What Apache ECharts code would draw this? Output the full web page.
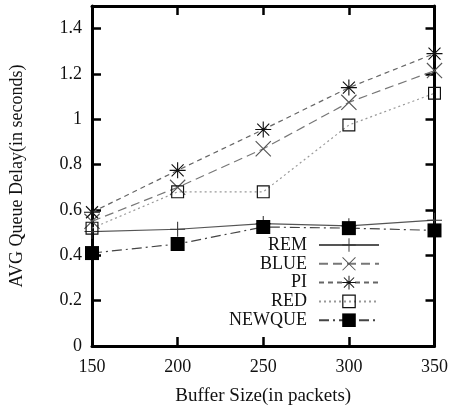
<!DOCTYPE html>
<html>
<head>
<meta charset="utf-8">
<script src="https://cdn.jsdelivr.net/npm/echarts@6/dist/echarts.min.js"></script>
<style>html,body{margin:0;padding:0;background:#fff;}#c{width:451px;height:411px;}</style>
</head>
<body>
<div id="c"></div>
<script>
const bufferSizes = [150, 200, 250, 300, 350];
const remDelay    = [0.505, 0.515, 0.54, 0.53, 0.555];
const blueDelay   = [0.55, 0.70, 0.87, 1.075, 1.215];
const piDelay     = [0.59, 0.775, 0.955, 1.14, 1.29];
const redDelay    = [0.52, 0.68, 0.68, 0.975, 1.115];
const newqueDelay = [0.41, 0.45, 0.525, 0.52, 0.51];
const seriesNames = ['REM', 'BLUE', 'PI', 'RED', 'NEWQUE'];

const PLUS = 'path://M0,9.3L20,9.3L20,10.7L0,10.7Z M9.3,0L10.7,0L10.7,20L9.3,20Z';
const CROSS = 'path://M0,1L1,0L20,19L19,20Z M19,0L20,1L1,20L0,19Z';
const STAR = 'path://M0,9.3L20,9.3L20,10.7L0,10.7Z M9.3,0L10.7,0L10.7,20L9.3,20Z M2,3L3,2L18,17L17,18Z M17,2L18,3L3,18L2,17Z';
const OPEN_SQ = 'path://M0,0L20,0L20,20L0,20Z M1.8,1.8L1.8,18.2L18.2,18.2L18.2,1.8Z';

function pairs(vals) { return bufferSizes.map((x, i) => [x, vals[i]]); }

const font = 'Liberation Serif';
const chart = echarts.init(document.getElementById('c'), null, {renderer: 'canvas'});

function mkSeries(name, vals, symbol, size, lineColor, markColor, dash) {
  return {
    name: name, type: 'line', data: pairs(vals), xAxisIndex: 0, yAxisIndex: 0,
    symbol: symbol, symbolSize: size, showAllSymbol: true,
    lineStyle: {color: lineColor, width: 1.2, type: dash},
    itemStyle: {color: markColor, borderWidth: 0},
    emphasis: {disabled: true}, animation: false, z: 3
  };
}

function axisCommon() {
  return {
    axisLine: {show: true, onZero: false, lineStyle: {color: '#000', width: 3}},
    axisTick: {show: true, inside: true, length: 9, lineStyle: {color: '#000', width: 2.5}},
    splitLine: {show: false}
  };
}

chart.setOption({
  animation: false,
  backgroundColor: '#fff',
  grid: {left: 92, right: 16, top: 6, bottom: 62, containLabel: false},
  xAxis: [
    Object.assign({
      type: 'value', min: 150, max: 350, interval: 50, position: 'bottom',
      name: 'Buffer Size(in packets)', nameLocation: 'middle', nameGap: 41,
      nameTextStyle: {fontFamily: font, fontSize: 19, color: '#111'},
      axisLabel: {fontFamily: font, fontSize: 18, color: '#111', margin: 12}
    }, axisCommon()),
    Object.assign({
      type: 'value', min: 150, max: 350, interval: 50, position: 'top',
      axisLabel: {show: false}
    }, axisCommon())
  ],
  yAxis: [
    Object.assign({
      type: 'value', min: 0, max: 1.5, interval: 0.2, position: 'left',
      name: 'AVG Queue Delay(in seconds)', nameLocation: 'middle', nameGap: 66,
      nameTextStyle: {fontFamily: font, fontSize: 18, color: '#111'},
      axisLabel: {fontFamily: font, fontSize: 18, color: '#111', margin: 10, showMaxLabel: false}
    }, axisCommon()),
    Object.assign({
      type: 'value', min: 0, max: 1.5, interval: 0.2, position: 'right',
      axisLabel: {show: false}
    }, axisCommon())
  ],
  legend: {
    orient: 'vertical', align: 'right', right: 66, top: 231,
    itemWidth: 60, itemHeight: 17, itemGap: 0.8,
    textStyle: {fontFamily: font, fontSize: 18, lineHeight: 17, color: '#111', padding: [0, 7, 0, 0]},
    data: seriesNames,
    selectedMode: false
  },
  series: [
    mkSeries('REM', remDelay, PLUS, 15, '#555', '#333', 'solid'),
    mkSeries('BLUE', blueDelay, CROSS, 16, '#777', '#555', [9, 5]),
    mkSeries('PI', piDelay, STAR, 16, '#666', '#111', [5, 4]),
    mkSeries('RED', redDelay, OPEN_SQ, 13, '#999', '#111', [2, 3]),
    mkSeries('NEWQUE', newqueDelay, 'rect', 14, '#444', '#000', [10, 4, 2, 4])
  ]
});
</script>
</body>
</html>
